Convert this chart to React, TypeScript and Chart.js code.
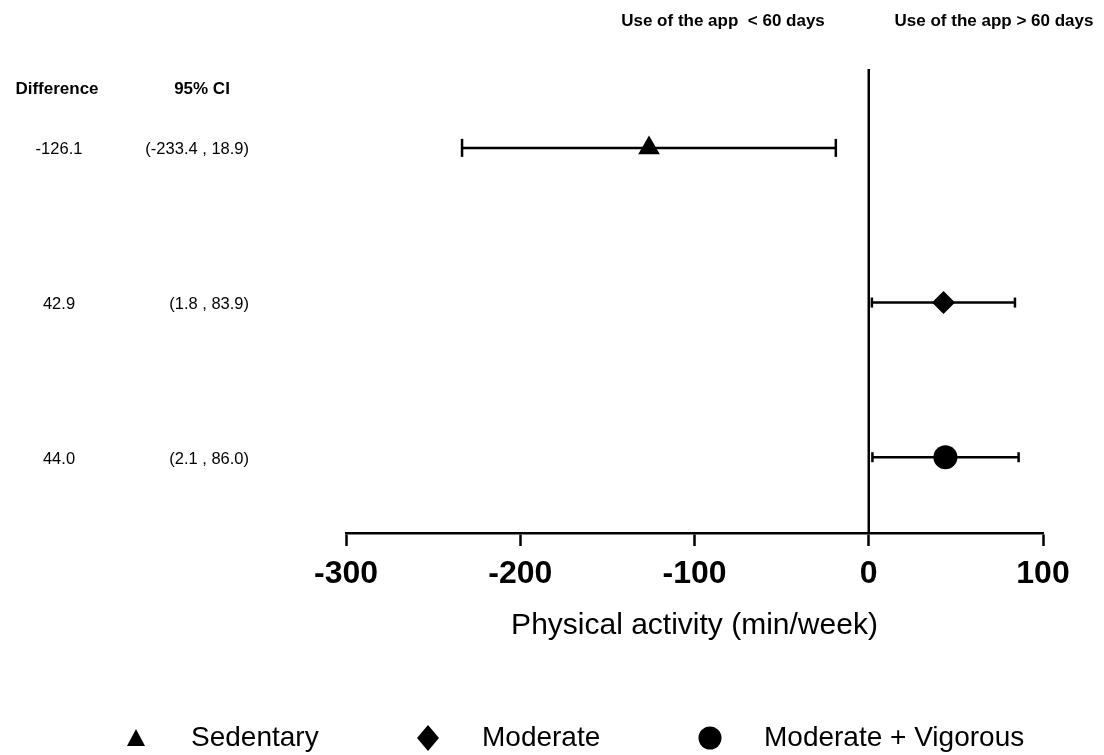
import React, { useEffect, useRef } from "react";
import { Chart, registerables } from "chart.js";

Chart.register(...registerables);

// ---- data ----
const categories = ["Sedentary", "Moderate", "Moderate + Vigorous"];
const differences = [-126.1, 42.9, 44.0];
const ciLow = [-233.4, 1.8, 2.1];
const ciHigh = [-18.9, 83.9, 86.0];
const ciLabels = ["(-233.4 , 18.9)", "(1.8 , 83.9)", "(2.1 , 86.0)"];
const markerStyles = ["triangle", "rectRot", "circle"];
const markerRadii = [12.5, 11.5, 12];
const capRadii = [9, 5, 5];
const xTicks = [-300, -200, -100, 0, 100];
const xMin = -300;
const xMax = 100;
const yMin = 0.49;
const yMax = 3.49;
const topLabels = ["Use of the app  < 60 days", "Use of the app > 60 days"];
const columnHeaders = ["Difference", "95% CI"];
const xTitle = "Physical activity (min/week)";

const FONT = '"Liberation Sans", Arial, Helvetica, sans-serif';

const textPlugin = {
  id: "forestText",
  afterDraw(chart: any) {
    const ctx = chart.ctx;
    const ys = chart.scales.y;
    const area = chart.chartArea;
    ctx.save();
    ctx.fillStyle = "#000";
    ctx.textBaseline = "middle";

    // top labels
    ctx.font = `bold 17px ${FONT}`;
    ctx.textAlign = "center";
    ctx.fillText(topLabels[0], 723, 21);
    ctx.fillText(topLabels[1], 994, 21);

    // column headers
    ctx.fillText(columnHeaders[0], 57, 89);
    ctx.fillText(columnHeaders[1], 202, 89);

    // row values
    ctx.font = `16.5px ${FONT}`;
    categories.forEach((_, i) => {
      const y = ys.getPixelForValue(i + 1) + 2;
      ctx.textAlign = "center";
      ctx.fillText(differences[i].toFixed(1), 59, y);
      ctx.textAlign = "right";
      ctx.fillText(ciLabels[i], 249, y);
    });

    // axis title
    ctx.font = `30px ${FONT}`;
    ctx.textAlign = "center";
    ctx.fillText(xTitle, (area.left + area.right) / 2, 626);

    // legend
    const legendY = 738;
    const markerX = [136, 428, 710];
    const textX = [191, 482, 764];
    ctx.font = `28px ${FONT}`;
    ctx.textAlign = "left";
    categories.forEach((name, i) => {
      const mx = markerX[i];
      ctx.beginPath();
      if (markerStyles[i] === "triangle") {
        ctx.moveTo(mx, legendY - 9);
        ctx.lineTo(mx + 9, legendY + 8);
        ctx.lineTo(mx - 9, legendY + 8);
        ctx.closePath();
      } else if (markerStyles[i] === "rectRot") {
        ctx.moveTo(mx, legendY - 13);
        ctx.lineTo(mx + 11, legendY);
        ctx.lineTo(mx, legendY + 13);
        ctx.lineTo(mx - 11, legendY);
        ctx.closePath();
      } else {
        ctx.arc(mx, legendY, 11.5, 0, Math.PI * 2);
      }
      ctx.fill();
      ctx.fillText(name, textX[i], legendY);
    });
    ctx.restore();
  },
};

export default function App() {
  const ref = useRef<HTMLCanvasElement | null>(null);

  useEffect(() => {
    document.body.style.margin = "0";
    const canvas = ref.current;
    if (!canvas) return;

    const markerSets = categories.map((name, i) => ({
      type: "scatter" as const,
      label: name,
      data: [{ x: differences[i], y: i + 1 }],
      pointStyle: markerStyles[i],
      pointRadius: markerRadii[i],
      pointBackgroundColor: "#000",
      pointBorderColor: "#000",
      pointBorderWidth: 0,
      showLine: false,
      order: 0,
      clip: false,
    }));

    const ciSets = categories.map((name, i) => ({
      type: "line" as const,
      label: name + " CI",
      data: [
        { x: ciLow[i], y: i + 1 },
        { x: ciHigh[i], y: i + 1 },
      ],
      borderColor: "#000",
      borderWidth: 2.5,
      pointStyle: "line",
      pointRotation: 90,
      pointRadius: capRadii[i],
      pointBorderColor: "#000",
      pointBorderWidth: 2.5,
      pointBackgroundColor: "#000",
      order: 1,
      clip: false,
    }));

    const zeroLine = {
      type: "line" as const,
      label: "zero",
      data: [
        { x: 0, y: yMin },
        { x: 0, y: yMax },
      ],
      borderColor: "#000",
      borderWidth: 2.5,
      pointRadius: 0,
      order: 2,
      clip: false,
    };

    const chart = new Chart(canvas, {
      type: "scatter",
      data: { datasets: [...markerSets, ...ciSets, zeroLine] as any },
      options: {
        animation: false,
        responsive: false,
        events: [],
        layout: { padding: { left: 346, right: 61, top: 69, bottom: 0 } },
        plugins: {
          legend: { display: false },
          tooltip: { enabled: false },
          title: { display: false },
        },
        scales: {
          x: {
            type: "linear",
            min: xMin,
            max: xMax,
            afterBuildTicks: (scale: any) => {
              scale.ticks = xTicks.map((v) => ({ value: v }));
            },
            afterFit: (scale: any) => {
              scale.height = 222;
            },
            border: { display: true, color: "#000", width: 2.5 },
            grid: {
              display: true,
              drawOnChartArea: false,
              drawTicks: true,
              tickLength: 13,
              tickColor: "#000",
              tickWidth: 2.5,
              color: "#000",
            },
            ticks: {
              color: "#000",
              padding: 9,
              maxRotation: 0,
              autoSkip: false,
              font: { family: FONT, size: 32, weight: "bold" },
              callback: (v: any) => String(v),
            },
          },
          y: {
            type: "linear",
            display: false,
            reverse: true,
            min: yMin,
            max: yMax,
          },
        },
      },
      plugins: [textPlugin],
    });

    return () => chart.destroy();
  }, []);

  return (
    <div style={{ width: 1104, height: 755, background: "#fff" }}>
      <canvas ref={ref} width={1104} height={755} style={{ display: "block" }} />
    </div>
  );
}
